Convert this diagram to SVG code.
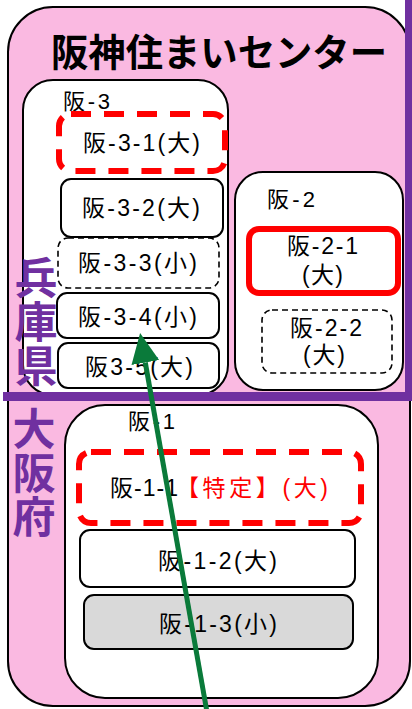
<svg xmlns="http://www.w3.org/2000/svg" width="412" height="709" viewBox="0 0 412 709">
<style>
text{font-family:"Liberation Sans","Noto Sans CJK JP",sans-serif;fill:#000}
.t{font-size:23px}
.s{font-size:22px}
.mid{text-anchor:middle}
.box{fill:#fff;stroke:#000;stroke-width:2}
.dash{fill:#fff;stroke:#000;stroke-width:1.6;stroke-dasharray:6 4}
.red{fill:#fff;stroke:#ff0000;stroke-width:6}
.reddash{fill:#fff;stroke:#ff0000;stroke-width:6;stroke-dasharray:20 13}
.pref{font-size:43px;font-weight:bold;fill:#7030a0;text-anchor:middle}
</style>
<defs>
<marker id="ah" markerUnits="userSpaceOnUse" markerWidth="32" markerHeight="30" refX="0" refY="15" orient="auto">
<path d="M0,1 L30,15 L0,29 z" fill="#0a7a3a"/>
</marker>
</defs>
<g id="center">
<rect x="8" y="7" width="402" height="699" rx="45" fill="#fab9e1" stroke="#000" stroke-width="2"/>
<text x="51" y="66" font-size="38" font-weight="bold" textLength="336" lengthAdjust="spacingAndGlyphs">阪神住まいセンター</text>
</g>
<g id="han3">
<rect class="box" x="23" y="80" width="205" height="315" rx="30"/>
<text class="s" x="63" y="109" textLength="47">阪-3</text>
</g>
<g id="han3-1"><rect class="reddash" x="59" y="114" width="166" height="57" rx="12"/><text class="t mid" x="141.5" y="151" textLength="117">阪-3-1(大)</text></g>
<g id="han3-2"><rect class="box" x="61" y="179" width="162" height="58" rx="10"/><text class="t mid" x="141" y="216" textLength="118">阪-3-2(大)</text></g>
<g id="han3-3"><rect class="dash" x="58" y="238" width="161" height="50" rx="10"/><text class="t mid" x="137.5" y="271" textLength="119">阪-3-3(小)</text></g>
<g id="han3-4"><rect class="box" x="57" y="293" width="162" height="45" rx="10"/><text class="t mid" x="137.5" y="325" textLength="119">阪-3-4(小)</text></g>
<g id="han3-5"><rect class="box" x="58" y="343" width="161" height="45" rx="10"/><text class="t mid" x="139" y="375" textLength="108">阪3-5(大)</text></g>
<g id="han2">
<rect class="box" x="235" y="172" width="168" height="218" rx="28"/>
<text class="s" x="267" y="207" textLength="48">阪-2</text>
</g>
<g id="han2-1"><rect class="red" x="249" y="229" width="149" height="64" rx="10"/><text class="t mid" x="322.5" y="254" textLength="71">阪-2-1</text><text class="t mid" x="322.5" y="283" textLength="41">(大)</text></g>
<g id="han2-2"><rect class="dash" x="262" y="310" width="130" height="63" rx="10"/><text class="t mid" x="326" y="336" textLength="72">阪-2-2</text><text class="t mid" x="324" y="363" textLength="42">(大)</text></g>
<g id="han1">
<rect class="box" x="65" y="405" width="313" height="293" rx="40"/>
<text class="s" x="128" y="429" textLength="47">阪-1</text>
</g>
<g id="han1-1"><rect class="reddash" x="79" y="452" width="282" height="71" rx="12"/><text class="t" x="110" y="496" textLength="68">阪-1-1</text><text class="t" x="176" y="496" textLength="152" style="fill:#ff0000">【特定】(大)</text></g>
<g id="han1-2"><rect class="box" x="80" y="530" width="275" height="57" rx="10"/><text class="t mid" x="217.5" y="569" textLength="119">阪-1-2(大)</text></g>
<g id="han1-3"><rect class="box" x="84" y="595" width="269" height="54" rx="10" style="fill:#d9d9d9"/><text class="t mid" x="218" y="632" textLength="118">阪-1-3(小)</text></g>
<g id="border">
<rect x="405" y="0" width="7" height="400" fill="#7030a0"/>
<rect x="3" y="392" width="409" height="9" fill="#7030a0"/>
<text class="pref" x="36" y="294">兵</text>
<text class="pref" x="36" y="338">庫</text>
<text class="pref" x="36" y="382">県</text>
<text class="pref" x="34" y="445">大</text>
<text class="pref" x="34" y="489">阪</text>
<text class="pref" x="34" y="533">府</text>
</g>
<g id="connectors">
<line x1="207.5" y1="715" x2="145.3" y2="362.5" stroke="#0a7a3a" stroke-width="5" marker-end="url(#ah)"/>
</g>
</svg>
